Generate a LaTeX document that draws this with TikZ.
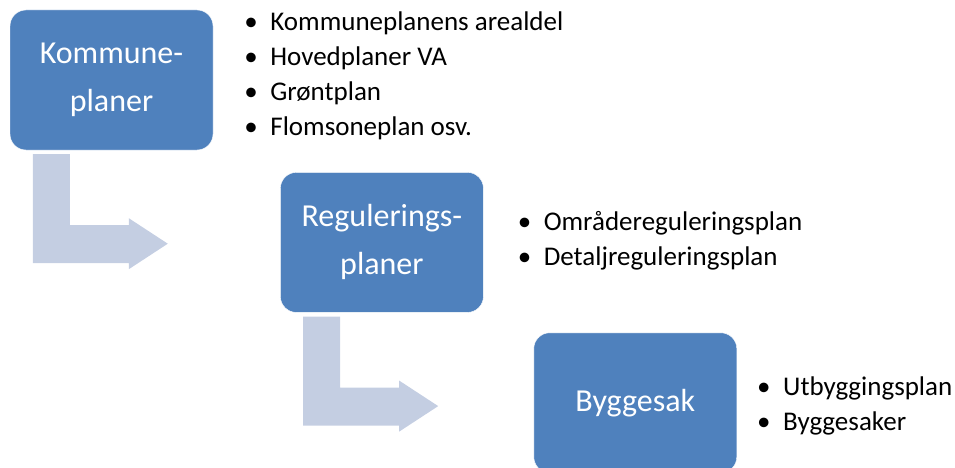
\documentclass[tikz,border=0pt]{standalone}
\usepackage{fontspec}
\setmainfont{Carlito}
\usepackage{tikz}
\usetikzlibrary{calc, positioning}
\definecolor{boxblue}{RGB}{79,129,189}
\definecolor{arrowblue}{RGB}{196,206,226}
\tikzstyle{planbox}  = [rectangle, rounded corners=16pt, minimum width=203pt, minimum height=140pt, align=center, draw=white, fill=boxblue, text=white, font=\fontsize{32}{48}\selectfont]
\tikzstyle{itemlist} = [align=left, inner sep=0pt, font=\fontsize{27}{35}\selectfont]
\tikzstyle{bent}     = [fill=arrowblue, draw=none]
\newcommand{\itm}[1]{\makebox[26pt][l]{\textbullet}#1}

\begin{document}
\begin{tikzpicture}[x=1pt, y=-1pt]
  \useasboundingbox (0,0) rectangle (955,468);
  \node[planbox] (Kommune) at (111.5,80) {Kommune-\\planer};
  \node[planbox, below right=22pt and 67pt of Kommune] (Regulering) {Regulerings-\\planer};
  \node[planbox, below right=20pt and 50pt of Regulering] (Byggesak) {Byggesak};
  \node[itemlist, right=31pt of Kommune, yshift=4pt] (KommuneList) {\itm{Kommuneplanens arealdel}\\\itm{Hovedplaner VA}\\\itm{Grøntplan}\\\itm{Flomsoneplan osv.}};
  \node[itemlist, right=34pt of Regulering, yshift=1.5pt] (ReguleringList) {\itm{Områdereguleringsplan}\\\itm{Detaljreguleringsplan}};
  \node[itemlist, right=20pt of Byggesak, yshift=-3pt] (ByggesakList) {\itm{Utbyggingsplan}\\\itm{Byggesaker}};
  % bent arrows below the first two boxes
  \foreach \from in {Kommune, Regulering} {
      \coordinate (sw) at (\from.south west);
      \fill[bent] ($(sw)+(23,4)$) -- ++(37,0) -- ++(0,71) -- ++(59,0) -- ++(0,-7) -- ++(39,25.5) -- ++(-39,25.5) -- ++(0,-6) -- ++(-96,0) -- cycle;
  }
\end{tikzpicture}
\end{document}
